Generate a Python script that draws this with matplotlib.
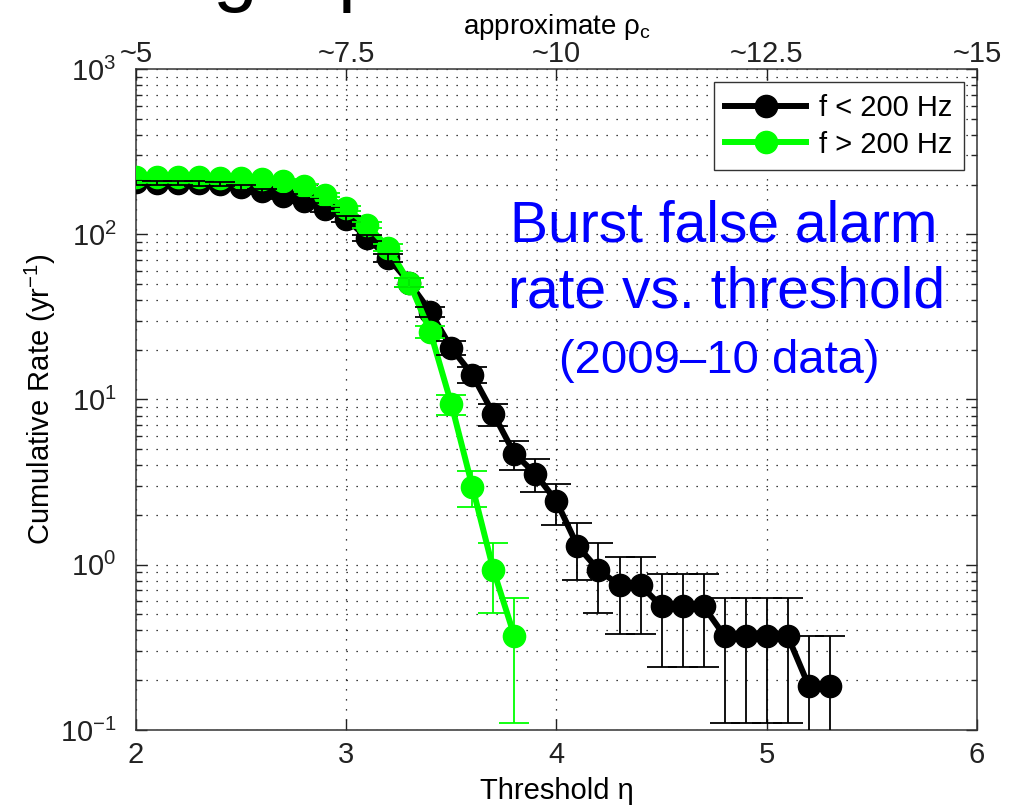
import numpy as np
import matplotlib
matplotlib.use('Agg')
import matplotlib.pyplot as plt
from matplotlib.ticker import LogLocator, NullFormatter

plt.rcParams['font.family'] = ['Liberation Sans', 'DejaVu Sans']
plt.rcParams['mathtext.fontset'] = 'custom'
plt.rcParams['mathtext.rm'] = 'Liberation Sans'
plt.rcParams['mathtext.it'] = 'Liberation Sans:italic'
plt.rcParams['mathtext.sf'] = 'Liberation Sans'

# f < 200 Hz (black)
thr_low = [2.0, 2.1, 2.2, 2.3, 2.4, 2.5, 2.6, 2.7, 2.8, 2.9,
           3.0, 3.1, 3.2, 3.3, 3.4, 3.5, 3.6, 3.7, 3.8, 3.9,
           4.0, 4.1, 4.2, 4.3, 4.4, 4.5, 4.6, 4.7, 4.8, 4.9,
           5.0, 5.1, 5.2, 5.3]
rate_low = [206, 205, 204, 203, 201, 192, 182, 170, 160, 142,
            124, 95, 72, 51, 34, 20.5, 14.1, 8.2, 4.7, 3.55,
            2.42, 1.30, 0.93, 0.75, 0.75, 0.56, 0.56, 0.56, 0.37, 0.37,
            0.37, 0.37, 0.185, 0.185]
err_low = [6.2, 6.2, 6.2, 6.1, 6.1, 6.0, 5.8, 5.6, 5.5, 5.1,
           4.8, 4.2, 3.7, 3.1, 2.5, 1.95, 1.6, 1.25, 0.94, 0.81,
           0.67, 0.49, 0.42, 0.37, 0.37, 0.32, 0.32, 0.32, 0.26, 0.26,
           0.26, 0.26, 0.185, 0.185]

# f > 200 Hz (green)
thr_high = [2.0, 2.1, 2.2, 2.3, 2.4, 2.5, 2.6, 2.7, 2.8, 2.9,
            3.0, 3.1, 3.2, 3.3, 3.4, 3.5, 3.6, 3.7, 3.8]
rate_high = [222, 222, 221, 221, 220, 218, 216, 210, 196, 173,
             144, 114, 83, 51, 25.7, 9.4, 2.97, 0.93, 0.37]
err_high = [6.4, 6.4, 6.4, 6.4, 6.4, 6.4, 6.3, 6.2, 6.0, 5.7,
            5.2, 4.6, 3.9, 3.1, 2.2, 1.3, 0.74, 0.42, 0.26]

x_ticks = [2, 3, 4, 5, 6]
rho_labels = ['~5', '~7.5', '~10', '~12.5', '~15']

GREEN = '#00ff00'
FS = 21

fig = plt.figure(figsize=(10.17, 8.10), dpi=100)
ax = fig.add_axes([0.1337, 0.0988, 0.8269, 0.8160])

ax.plot(thr_low, rate_low, '-o', color='k', lw=4.3, ms=16, zorder=3, label='f < 200 Hz')
ax.plot(thr_high, rate_high, '-o', color=GREEN, lw=4.3, ms=16, zorder=4, label='f > 200 Hz')
ax.errorbar(thr_low, rate_low, yerr=err_low, fmt='none', ecolor='k', elinewidth=1.3,
            capsize=10.5, capthick=1.3, zorder=5)
ax.errorbar(thr_high, rate_high, yerr=err_high, fmt='none', ecolor=GREEN, elinewidth=1.3,
            capsize=10.5, capthick=1.3, zorder=6)

ax.set_yscale('log')
ax.set_xlim(2, 6)
ax.set_ylim(0.1, 1000)
ax.set_xticks(x_ticks)
ax.yaxis.set_major_locator(LogLocator(base=10, numticks=10))
ax.yaxis.set_minor_locator(LogLocator(base=10, subs=range(2, 10), numticks=50))
ax.yaxis.set_minor_formatter(NullFormatter())

ax.set_axisbelow(True)
dots = (0, (1, 7))
ax.grid(True, which='major', axis='both', ls=dots, color='k', lw=0.9)
ax.grid(True, which='minor', axis='y', ls=dots, color='k', lw=0.9)

ax.tick_params(which='both', direction='in', right=True, top=False, labelsize=FS, colors='#222222')
ax.tick_params(which='major', length=8, width=1)
ax.tick_params(which='minor', length=4.5, width=1)
ax.tick_params(axis='y', which='major', pad=14)
ax.tick_params(axis='x', which='major', pad=8)
for s in ax.spines.values():
    s.set_color('#333333')
    s.set_linewidth(1.1)

ax.set_xlabel('Threshold η', fontsize=FS, labelpad=6)
ax.set_ylabel('Cumulative Rate (yr$^{-1}$)', fontsize=FS, labelpad=1)

leg = ax.legend(loc='upper right', fontsize=FS, fancybox=False, framealpha=1,
                edgecolor='#333333', borderaxespad=0.45, handlelength=2.75,
                labelspacing=0.3, borderpad=0.4, handletextpad=0.45)
leg.get_frame().set_linewidth(1.0)

ax2 = ax.twiny()
ax2.set_xlim(2, 6)
ax2.set_xticks(x_ticks)
ax2.set_xticklabels(rho_labels)
ax2.tick_params(direction='in', length=8, width=1, labelsize=FS, pad=1, colors='#222222')
ax2.set_xlabel('approximate ρ$_\\mathrm{c}$', fontsize=20, labelpad=4)
for s in ax2.spines.values():
    s.set_visible(False)

# annotation text
fig.text(724 / 1017, 1 - 242 / 810, 'Burst false alarm', ha='center', va='baseline',
         fontsize=41, color='#0000ff')
fig.text(727 / 1017, 1 - 307 / 810, 'rate vs. threshold', ha='center', va='baseline',
         fontsize=41, color='#0000ff')
fig.text(719 / 1017, 1 - 373 / 810, '(2009–10 data)', ha='center', va='baseline',
         fontsize=34, color='#0000ff')

# cut-off slide title at the very top (only its descenders show, as in the slide)
fig.text(213 / 1017, 1 + 4 / 810, 'g', ha='left', va='baseline', fontsize=58, color='k')
fig.text(338 / 1017, 1 + 4 / 810, 'p', ha='left', va='baseline', fontsize=58, color='k')

fig.savefig('out.png', dpi=100)
